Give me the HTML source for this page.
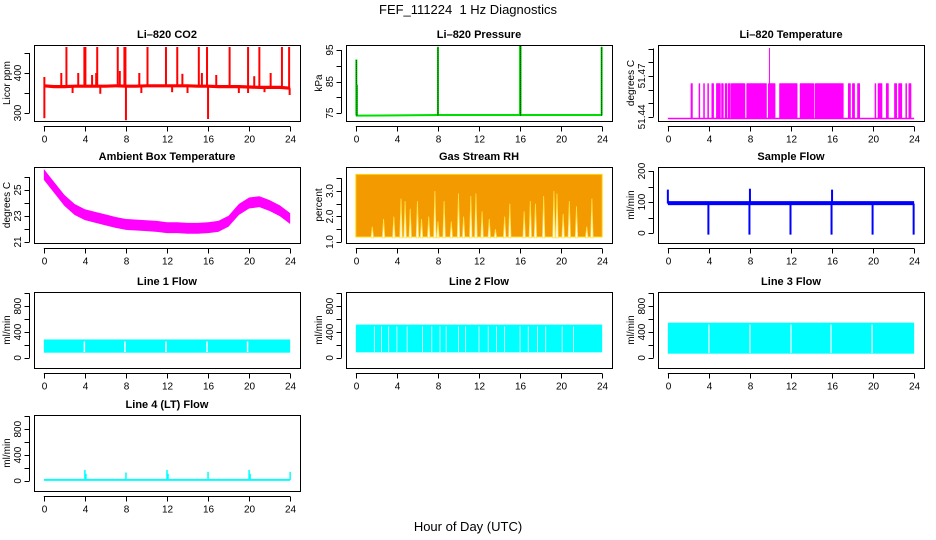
<!DOCTYPE html>
<html><head><meta charset="utf-8"><style>
html,body{margin:0;padding:0;background:#fff;}
svg{display:block;font-family:"Liberation Sans",Arial,sans-serif;}
</style></head><body>
<svg id="chart" width="936" height="540" viewBox="0 0 936 540">
<text x="468" y="14" font-size="13" text-anchor="middle">FEF_111224&#160; 1 Hz Diagnostics</text>
<text x="468" y="531" font-size="13" text-anchor="middle">Hour of Day (UTC)</text>
</svg>
<script>
// ---------- data ----------
const xTicks=[0,4,8,12,16,20,24];
// CO2
const co2Hours=[0,1,2,3,4,5,6,7,8,9,10,11,12,13,14,15,16,17,18,19,20,21,22,23,24];
const co2Base=[368,366,366,367,367,367,367,368,367,367,368,368,368,368,368,367,367,366,366,366,365,364,364,364,362];
const co2SpikeT=[0.05,0.05,2.2,3.95,4.05,5.2,7.2,7.85,7.95,8.0,10.1,11.9,13.0,15.1,15.9,16.0,18.1,19.9,21.0,23.2,23.9,1.7,3.35,4.7,5.1,7.4,9.3,13.5,15.4,16.8,20.5,22.1,2.8,5.5,9.5,12.5,14.0,19.0,19.9,21.5,23.95];
const co2SpikeV=[390,287,465,465,465,465,465,465,465,282,465,465,465,465,465,285,465,465,465,465,465,400,400,395,400,405,400,398,400,395,392,400,350,348,350,352,350,350,350,352,345];
// Pressure
const presHours=[0,4,8,12,16,20,24];
const presBase=[74.2,74.3,74.4,74.4,74.4,74.4,74.4];
const presSpikeT=[0.05,0.1,8.0,16.0,16.05,23.95];
const presSpikeV=[92,84,96,96.5,96.5,96];
// Li-820 temperature
const ltLow=51.4388, ltHigh=51.4645, ltPeakT=9.9, ltPeakV=51.4905;
const ltStart=[2.27,3.05,3.5,3.9,4.3,4.75,5.25,5.6,5.9,6.2,7.7,9.8,10.9,12.9,14.35,17.6,18.0,18.5,20.2,20.5,21.3,22.1,22.5,23.2,23.5];
const ltEnd=[2.4,3.1,3.55,3.95,4.45,5.1,5.4,5.75,6.1,7.5,9.6,10.45,12.6,14.2,17.1,17.8,18.2,18.7,20.25,20.85,21.5,22.3,22.8,23.25,23.7];
// Ambient box temperature
const ambHours=[0,1,2,3,4,5,6,7,8,9,10,11,12,13,14,15,16,17,18,19,20,21,22,23,24];
const ambMid=[26.2,25.2,24.2,23.5,23.1,22.9,22.7,22.5,22.35,22.3,22.25,22.2,22.1,22.1,22.05,22.05,22.1,22.2,22.6,23.5,24.0,24.1,23.8,23.4,22.8];
// Gas stream RH
const rhTop=3.65, rhBottom=1.2;
const rhGapT=[1.6,2.7,3.7,4.4,4.8,5.3,6.0,6.4,7.1,7.7,8.0,8.6,9.3,10.0,10.5,11.2,11.7,12.3,13.0,13.6,14.5,15.0,16.4,17.0,17.5,18.3,19.3,19.6,20.2,20.8,21.5,22.5,23.0];
const rhGapV=[1.6,1.9,2.0,2.7,2.6,2.3,2.6,1.9,2.0,3.0,1.8,2.6,1.8,2.9,2.0,2.8,2.9,2.2,1.9,1.5,2.0,2.5,2.2,2.6,2.5,2.8,3.0,2.9,2.1,2.6,2.4,1.6,2.7];
// Sample flow
const sfLow=90, sfHigh=103;
const sfDipT=[4,8,12,16,20,24];
const sfDipV=[-5,-5,-5,-5,-5,-5];
const sfSpikeT=[0,8,16];
const sfSpikeV=[140,143,140];
// Line flows
const l1Low=80, l1High=285;
const l1GapT=[3.95,7.9,11.9,15.9,19.85];
const l2Low=85, l2High=515;
const l2GapT=[1.8,2.5,3.2,4.0,5.0,6.5,7.4,8.2,8.8,10.0,10.7,12.0,12.9,13.7,14.5,16.0,16.8,17.7,18.5,20.1,21.2];
const l3Low=65, l3High=545;
const l3GapT=[4.0,8.0,12.0,15.9,19.9];
const l4Base=15;
const l4SpikeT=[4.0,4.1,8.0,12.0,12.1,16.0,20.0,20.1,24.0];
const l4SpikeV=[170,110,130,170,110,140,170,110,140];

// ---------- helpers ----------
const NS='http://www.w3.org/2000/svg';
const svg=document.getElementById('chart');
function mk(tag,attrs,parent){const e=document.createElementNS(NS,tag);for(const k in attrs)e.setAttribute(k,attrs[k]);(parent||svg).appendChild(e);return e;}
const COLS=[34,346,658], ROWS=[45,167,292,415], W=266, H=76;
function panel(c,r,name,title,ylab,ymin,ymax,ticks,labels){
  const L=COLS[c],T=ROWS[r];
  const g=mk('g',{});
  
  
  const p={g,L,T,x:t=>L+(t+0.96)/25.92*W,y:v=>T+(ymax-v)/(ymax-ymin)*H};
  const data=mk('g',{},g);
  
  
  p.d=data;
  const clip='clip'+c+r;
  const cp=mk('clipPath',{id:clip},g);mk('rect',{x:L,y:T,width:W,height:H},cp);
  data.setAttribute('clip-path','url(#'+clip+')');
  const box=mk('rect',{x:L+0.5,y:T+0.5,width:W,height:H,fill:'none',stroke:'#000','stroke-width':1},g);
  
  
  const tt=mk('text',{x:L+W/2,y:T-7,'font-size':11,'font-weight':'bold','text-anchor':'middle'},g);tt.textContent=title;
  
  
  const yl=mk('text',{transform:`translate(${L-24},${T+H/2}) rotate(-90)`,'font-size':10,'text-anchor':'middle'},g);yl.textContent=ylab;
  
  
  const xa=mk('g',{},g);
  
  
  const xb=T+H+0.5;
  mk('line',{x1:p.x(0),x2:p.x(24),y1:xb+5,y2:xb+5,stroke:'#000'},xa);
  xTicks.forEach(t=>{const X=Math.round(p.x(t))+0.5;mk('line',{x1:X,x2:X,y1:xb+5,y2:xb+10,stroke:'#000'},xa);
    const lb=mk('text',{x:X,y:xb+21,'font-size':10,'text-anchor':'middle'},xa);lb.textContent=t;});
  const ya=mk('g',{},g);
  
  
  const xl=L-4.5;
  mk('line',{x1:xl,x2:xl,y1:p.y(ticks[0]),y2:p.y(ticks[ticks.length-1]),stroke:'#000'},ya);
  ticks.forEach(v=>{const Y=Math.round(p.y(v))+0.5;mk('line',{x1:xl-5,x2:xl,y1:Y,y2:Y,stroke:'#000'},ya);});
  labels.forEach(v=>{const Y=p.y(v);const lb=mk('text',{transform:`translate(${L-13},${Y}) rotate(-90)`,'font-size':10,'text-anchor':'middle'},ya);lb.textContent=v;});
  return p;
}
function band(p,xs,lo,hi,color){
  let pts=xs.map((t,i)=>p.x(t)+','+p.y(hi[i])).join(' ')+' '+xs.slice().reverse().map((t,i)=>p.x(t)+','+p.y(lo[xs.length-1-i])).join(' ');
  return mk('polygon',{points:pts,fill:color},p.d);
}
function vline(p,t,v1,v2,color,w){return mk('line',{x1:p.x(t),x2:p.x(t),y1:p.y(v1),y2:p.y(v2),stroke:color,'stroke-width':w||1});}

// ---------- CO2 ----------
{const p=panel(0,0,'co2','Li\u2013820 CO2','Licor ppm',280,470,[300,350,400,450],[300,400]);
 const b=band(p,co2Hours,co2Base.map(v=>v-4),co2Base.map(v=>v+4),'#ff0000');
 
 co2SpikeT.forEach((t,i)=>{const base=co2Base[Math.round(t)];const l=vline(p,t,base,co2SpikeV[i],'#ff0000',2);p.d.appendChild(l);
  });}
// ---------- Pressure ----------
{const p=panel(1,0,'pressure','Li\u2013820 Pressure','kPa',72.5,96.6,[75,80,85,90,95],[75,85,95]);
 const pl=mk('polyline',{points:presHours.map((t,i)=>p.x(t)+','+p.y(presBase[i])).join(' '),fill:'none',stroke:'#00dd00','stroke-width':2},p.d);
 
 presSpikeT.forEach((t,i)=>{const l=vline(p,t,74.3,presSpikeV[i],'#00dd00',2);p.d.appendChild(l);
  
  const d=vline(p,t,74.3,presSpikeV[i],'#000',1);d.setAttribute('stroke-dasharray','1,1');p.d.appendChild(d);
  });}
// ---------- Li-820 Temperature ----------
{const p=panel(2,0,'li820-temp','Li\u2013820 Temperature','degrees C',51.437,51.4926,[51.44,51.45,51.46,51.47,51.48,51.49],[51.44,51.47]);
 const bl=mk('line',{x1:p.x(0),x2:p.x(24),y1:p.y(ltLow),y2:p.y(ltLow),stroke:'#ff00ff','stroke-width':1.5},p.d);
 
 ltStart.forEach((s,i)=>{const e=ltEnd[i];
  for(let t=s;t<=e+1e-9;t+=0.035){const l=vline(p,t,ltLow,ltHigh,'#ff00ff',1);p.d.appendChild(l);}
  const r=mk('rect',{x:p.x(s),y:p.y(ltHigh),width:Math.max(1,p.x(e)-p.x(s)),height:p.y(ltLow)-p.y(ltHigh),fill:'#ff00ff','fill-opacity':0.85},p.d);
  });
 const pk=vline(p,ltPeakT,ltLow,ltPeakV,'#ff00ff',1);p.d.appendChild(pk);
 }
// ---------- Ambient ----------
{const p=panel(0,1,'ambient-temp','Ambient Box Temperature','degrees C',20.92,26.77,[21,22,23,24,25,26],[21,23,25]);
 const b=band(p,ambHours,ambMid.map(v=>v-0.42),ambMid.map(v=>v+0.42),'#ff00ff');
 }
// ---------- RH ----------
{const p=panel(1,1,'gas-rh','Gas Stream RH','percent',0.96,3.94,[1.0,1.5,2.0,2.5,3.0,3.5],['1.0','2.0','3.0']);
 const r=mk('rect',{x:p.x(0),y:p.y(rhTop),width:p.x(24)-p.x(0),height:p.y(rhBottom)-p.y(rhTop),fill:'#f39a00',stroke:'#ffd800','stroke-width':1},p.d);
 
 rhGapT.forEach((t,i)=>{const g=mk('polygon',{points:`${p.x(t-0.12)},${p.y(rhBottom)+1} ${p.x(t)},${p.y(rhGapV[i])} ${p.x(t+0.12)},${p.y(rhBottom)+1}`,fill:'#fff',stroke:'#ffe24a','stroke-width':0.8},p.d);
  });}
// ---------- Sample flow ----------
{const p=panel(2,1,'sample-flow','Sample Flow','ml/min',-32,213,[0,50,100,150,200],[0,100,200]);
 const r=mk('rect',{x:p.x(0),y:p.y(sfHigh),width:p.x(24)-p.x(0),height:p.y(sfLow)-p.y(sfHigh),fill:'#0000ff'},p.d);
 
 sfDipT.forEach((t,i)=>{const l=vline(p,t-0.05,95,sfDipV[i],'#0000ff',2);p.d.appendChild(l);
  });
 sfSpikeT.forEach((t,i)=>{const l=vline(p,t,95,sfSpikeV[i],'#0000ff',2);p.d.appendChild(l);
  });}
// ---------- Line flows ----------
function flowPanel(c,r,name,title,lo,hi,gaps,gw){
 const p=panel(c,r,name,title,'ml/min',-157,1020,[0,200,400,600,800,1000],[0,400,800]);
 const b=mk('rect',{x:p.x(0),y:p.y(hi),width:p.x(24)-p.x(0),height:p.y(lo)-p.y(hi),fill:'#00ffff'},p.d);
 
 gaps.forEach(t=>{const l=vline(p,t,lo+10,hi-30,'#fff',gw);p.d.appendChild(l);
  });
 return p;}
flowPanel(0,2,'line1-flow','Line 1 Flow',l1Low,l1High,l1GapT,1.5);
flowPanel(1,2,'line2-flow','Line 2 Flow',l2Low,l2High,l2GapT,0.8);
flowPanel(2,2,'line3-flow','Line 3 Flow',l3Low,l3High,l3GapT,1.2);
{const p=panel(0,3,'line4-flow','Line 4 (LT) Flow','ml/min',-157,1020,[0,200,400,600,800,1000],[0,400,800]);
 const b=mk('rect',{x:p.x(0),y:p.y(l4Base+15),width:p.x(24)-p.x(0),height:p.y(0)-p.y(l4Base+15),fill:'#00ffff'},p.d);
 
 l4SpikeT.forEach((t,i)=>{const l=vline(p,t,l4Base,l4SpikeV[i],'#00ffff',1.5);p.d.appendChild(l);
  });}
</script>
</body></html>
